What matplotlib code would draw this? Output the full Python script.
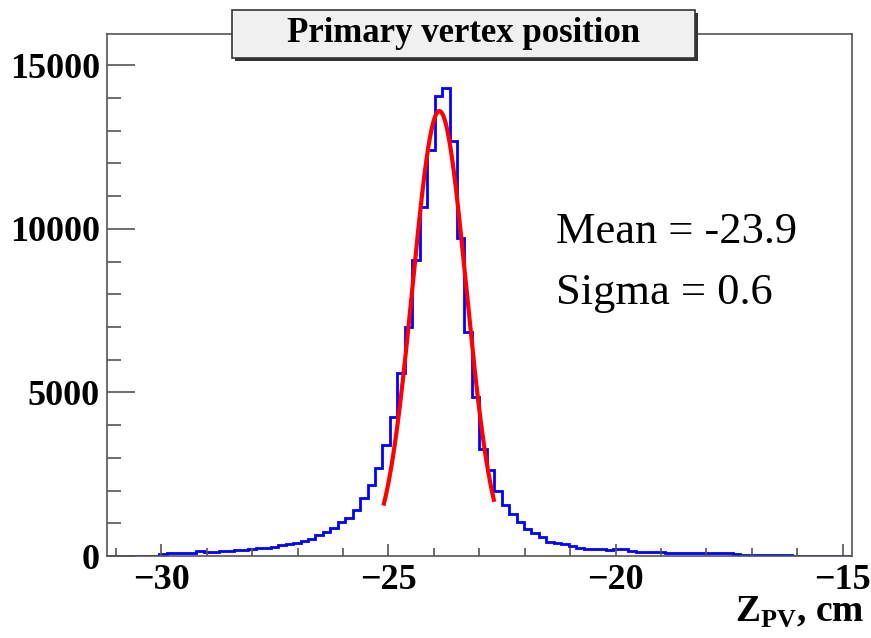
import numpy as np
import matplotlib
matplotlib.use('Agg')
from matplotlib import pyplot as plt
from matplotlib.patches import Rectangle

# histogram binning (100 bins)
bin_lo = -31.2
bin_hi = -14.8
n_bins = 100

# bin contents
counts = [
    0, 0, 0, 0, 0, 0, 0, 70, 85, 90,
    95, 100, 150, 125, 130, 140, 150, 175, 185, 200,
    230, 250, 285, 330, 365, 410, 450, 510, 630, 740,
    870, 1040, 1160, 1420, 1760, 2170, 2680, 3390, 4260, 5600,
    7000, 9050, 10680, 12400, 14070, 14300, 12670, 9730, 6860, 4870,
    3260, 2630, 2000, 1550, 1290, 1050, 820, 710, 570, 440,
    400, 380, 305, 240, 215, 200, 200, 195, 215, 205,
    140, 135, 130, 130, 125, 90, 80, 80, 80, 80,
    80, 80, 80, 80, 70, 30, 30, 30, 30, 30,
    30, 30, 10, 10, 10, 10, 10, 10, 10, 10,
]

# gaussian fit parameters
fit_const = 13600
fit_mean = -23.88
fit_sigma = 0.59
fit_lo = -25.1
fit_hi = -22.68

plt.rcParams['font.family'] = ['Liberation Serif', 'DejaVu Serif']
plt.rcParams['mathtext.fontset'] = 'custom'
plt.rcParams['mathtext.rm'] = 'Liberation Serif'
plt.rcParams['mathtext.bf'] = 'Liberation Serif:bold'

fig = plt.figure(figsize=(8.71, 6.38), dpi=100)
ax = fig.add_axes([0.1228, 0.1285, 0.855, 0.818])

edges = np.linspace(bin_lo, bin_hi, n_bins + 1)
ax.stairs(counts, edges, color='#0000ff', linewidth=2.0, baseline=0)

xf = np.linspace(fit_lo, fit_hi, 200)
yf = fit_const * np.exp(-0.5 * ((xf - fit_mean) / fit_sigma) ** 2)
ax.plot(xf, yf, color='#ff0000', linewidth=3.0)

ax.set_xlim(bin_lo, bin_hi)
ax.set_ylim(0, 15950)

ax.set_xticks([-30, -25, -20, -15])
ax.set_xticklabels(['\u221230', '\u221225', '\u221220', '\u221215'])
ax.set_xticks(np.arange(-31, -14, 1), minor=True)
ax.set_yticks([0, 5000, 10000, 15000])
ax.set_yticks(np.arange(0, 16000, 1000), minor=True)

spine_col = '#555555'
for s in ax.spines.values():
    s.set_color(spine_col)
    s.set_linewidth(1.2)

ax.tick_params(axis='both', which='both', direction='in', colors=spine_col,
               top=False, right=False)
ax.tick_params(axis='x', which='major', length=9, width=1.2, pad=6)
ax.tick_params(axis='x', which='minor', length=6, width=1.2)
ax.tick_params(axis='y', which='major', length=20, width=1.2, pad=5)
ax.tick_params(axis='y', which='minor', length=10, width=1.2)
for lab in ax.get_xticklabels():
    lab.set_color('black')
    lab.set_fontweight('bold')
    lab.set_fontsize(26)
for lab in ax.get_yticklabels():
    lab.set_color('black')
    lab.set_fontweight('bold')
    lab.set_fontsize(26)

ax.text(-21.32, 9900, 'Mean = -23.9', fontsize=32, va='center', ha='left')
ax.text(-21.32, 8040, 'Sigma = 0.6', fontsize=32, va='center', ha='left')

fig.text(0.993, 0.041, r'Z$_{\mathbf{PV}}$, cm', fontsize=27, fontweight='bold',
         ha='right', va='center')

# title box with shadow
bx, by, bw, bh = 232 / 871, 1 - 58 / 638, 463 / 871, 48 / 638
fig.patches.append(Rectangle((bx + 3 / 871, by - 3 / 638), bw, bh, transform=fig.transFigure,
                             facecolor='#333333', edgecolor='none', zorder=5))
fig.patches.append(Rectangle((bx, by), bw, bh, transform=fig.transFigure,
                             facecolor='#f0f0f0', edgecolor='#333333', linewidth=1.2, zorder=6))
fig.text(bx + bw / 2, by + bh / 2, 'Primary vertex position', fontsize=25,
         fontweight='bold', ha='center', va='center', zorder=7)

fig.savefig('out.png', dpi=100)
